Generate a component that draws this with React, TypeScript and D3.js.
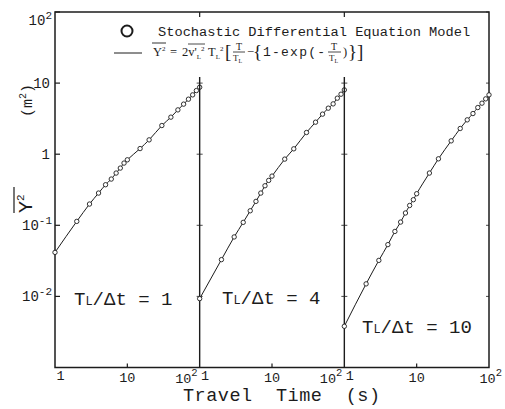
import React from "react";
import * as d3 from "d3";

// Travel times (s) at which the mean square displacement was sampled
const travelTimes = [1, 2, 3, 4, 5, 6, 7, 8, 9, 10, 15, 20, 30, 40, 50, 60, 70, 80, 90, 100];

// Mean square lateral displacement (m^2) for each T_L/Δt case
const msdRatio1 = [0.0416, 0.1135, 0.199, 0.284, 0.372, 0.447, 0.543, 0.638, 0.75, 0.834, 1.2, 1.59, 2.53, 3.32, 4.2, 5.06, 5.94, 6.83, 7.85, 8.75];
const msdRatio4 = [0.0093, 0.0329, 0.0686, 0.11, 0.16, 0.217, 0.284, 0.36, 0.428, 0.492, 0.853, 1.19, 2.02, 2.82, 3.66, 4.44, 5.1, 6.14, 6.98, 8.02];
const msdRatio10 = [0.0038, 0.015, 0.0321, 0.0535, 0.082, 0.111, 0.149, 0.19, 0.229, 0.278, 0.543, 0.861, 1.54, 2.3, 3.04, 3.73, 4.53, 5.22, 6.0, 6.83];

const panelSeries = [msdRatio1, msdRatio4, msdRatio10];
const panelRatios = ["1", "4", "10"];

// Y axis decades
const yTicks = [100, 10, 1, 0.1, 0.01];
const yTickBase = ["10", "10", "1", "10", "10"];
const yTickExp = ["2", "", "", "-1", "-2"];

// X axis ticks per panel
const xTicks = [1, 10, 100];

const W = 505;
const H = 409;
const left = 55;
const right = 489;
const top = 12;
const bottom = 367.5;
const panelW = (right - left) / 3;
const ink = "#1c1c1c";
const mono = "'Liberation Mono', 'DejaVu Sans Mono', monospace";
const serif = "'Liberation Serif', 'DejaVu Serif', serif";

const y = d3.scaleLog().domain([1e-3, 1e2]).range([bottom, top]);
const xScales = [0, 1, 2].map((i) =>
  d3.scaleLog().domain([1, 100]).range([left + i * panelW, left + (i + 1) * panelW])
);

function Panel({ i }: { i: number }) {
  const x = xScales[i];
  const values = panelSeries[i];
  const pts: [number, number][] = travelTimes.map((t, k) => [x(t), y(values[k])]);
  const line = d3.line().curve(d3.curveMonotoneX)(pts) || "";
  const x0 = x.range()[0];
  const x1 = x.range()[1];
  const labelPos = [
    { x: 74, y: 305 },
    { x: 222, y: 304 },
    { x: 362, y: 333 },
  ][i];
  const exp100End = i === 2 ? 502 : x1 - 2;
  return (
    <g>
      {/* panel divider on the left (panels 2 and 3) */}
      {i > 0 && <line x1={x0} x2={x0} y1={77} y2={bottom} stroke={ink} strokeWidth={1.4} />}
      {i > 0 && <line x1={x0} x2={x0} y1={top} y2={top + 5} stroke={ink} strokeWidth={1.2} />}
      {i > 0 &&
        yTicks.map((v) =>
          y(v) > 80 ? (
            <line key={v} x1={x0 - 3} x2={x0 + 3} y1={y(v)} y2={y(v)} stroke={ink} strokeWidth={0.8} />
          ) : null
        )}
      {/* x tick at 10 */}
      <line x1={x(10)} x2={x(10)} y1={bottom} y2={bottom - 4} stroke={ink} strokeWidth={1.2} />
      {/* x tick labels */}
      <text x={x(xTicks[0]) + 5.5} y={380} fontFamily={mono} fontSize={13.5} textAnchor="middle" fill={ink}>1</text>
      <text x={x(xTicks[1])} y={382} fontFamily={mono} fontSize={13.5} textAnchor="middle" fill={ink}>10</text>
      <text x={exp100End} y={383} fontFamily={mono} fontSize={13.5} textAnchor="end" fill={ink}>
        10<tspan fontSize={10.5} dy={-7}>2</tspan>
      </text>
      {/* theoretical curve */}
      <path d={line} fill="none" stroke={ink} strokeWidth={1} />
      {/* simulated points */}
      {pts.map(([px, py], k) => (
        <circle key={k} cx={px} cy={py} r={2.2} fill="#fff" stroke={ink} strokeWidth={0.9} />
      ))}
      {/* panel label */}
      <text x={labelPos.x} y={labelPos.y} fontFamily={mono} fontSize={19} fill={ink} style={{ whiteSpace: "pre" }}>
        T<tspan fontSize={12}>L</tspan>/Δt = {panelRatios[i]}
      </text>
    </g>
  );
}

export default function App() {
  return (
    <svg
      width={W}
      height={H}
      viewBox={`0 0 ${W} ${H}`}
      style={{ position: "absolute", left: 0, top: 0, background: "#fff" }}
    >
      <rect x={0} y={0} width={W} height={H} fill="#fff" />
      {/* frame */}
      <rect x={left} y={top} width={right - left} height={bottom - top} fill="none" stroke={ink} strokeWidth={1.5} />

      {/* y ticks and labels */}
      {yTicks.map((v, k) => (
        <g key={v}>
          <line x1={left} x2={left + 5} y1={y(v)} y2={y(v)} stroke={ink} strokeWidth={1.2} />
          <line x1={right} x2={right - 3} y1={y(v)} y2={y(v)} stroke={ink} strokeWidth={0.8} />
          <text
            x={yTickExp[k] ? 52 : 50}
            y={y(v) + (k === 0 ? 13 : 5)}
            fontFamily={mono}
            fontSize={14}
            textAnchor="end"
            fill={ink}
          >
            {yTickBase[k]}
            {yTickExp[k] && (
              <tspan fontSize={11} dy={-6}>
                {yTickExp[k]}
              </tspan>
            )}
          </text>
        </g>
      ))}

      {[0, 1, 2].map((i) => (
        <Panel key={i} i={i} />
      ))}

      {/* y axis title */}
      <g transform="translate(32, 213) rotate(-90)">
        <text x={0} y={0} fontFamily={mono} fontSize={20} fill={ink}>
          Y<tspan fontSize={11} dy={-8}>2</tspan>
        </text>
        <line x1={0} x2={26} y1={-18} y2={-18} stroke={ink} strokeWidth={1.2} />
        <text x={96} y={0} fontFamily={mono} fontSize={15} fill={ink}>
          (m<tspan fontSize={10} dy={-6}>2</tspan>
          <tspan dy={6}>)</tspan>
        </text>
      </g>

      {/* x axis title */}
      <text x={183} y={401} fontFamily={mono} fontSize={18.5} fill={ink} textLength={197} style={{ whiteSpace: "pre" }}>
        Travel  Time  (s)
      </text>

      {/* legend: simulation markers */}
      <circle cx={127} cy={31} r={5.5} fill="#fff" stroke={ink} strokeWidth={2} />
      <text x={158} y={36} fontFamily={mono} fontSize={13.7} fill={ink}>
        Stochastic Differential Equation Model
      </text>

      {/* legend: theoretical curve */}
      <line x1={114} x2={142} y1={53} y2={53} stroke={ink} strokeWidth={1} />
      <g fontFamily={serif} fill={ink} fontSize={12.5}>
        <text x={153} y={56}>
          Y<tspan fontSize={7} dy={-5}>2</tspan>
        </text>
        <line x1={152} x2={166} y1={43} y2={43} stroke={ink} strokeWidth={0.9} />
        <text x={170} y={56}>=</text>
        <text x={182} y={56}>
          2v'<tspan fontSize={7} dy={3}>L</tspan>
          <tspan fontSize={7} dy={-8}>2</tspan>
        </text>
        <line x1={188} x2={205} y1={44} y2={44} stroke={ink} strokeWidth={0.8} />
        <text x={208} y={56}>
          T<tspan fontSize={7} dy={3}>L</tspan>
          <tspan fontSize={7} dy={-8}>2</tspan>
        </text>
        <text x={225} y={58} fontSize={19}>[</text>
        <text x={236} y={50} fontSize={10}>T</text>
        <line x1={233} x2={245} y1={52} y2={52} stroke={ink} strokeWidth={0.8} />
        <text x={233} y={61} fontSize={9}>
          T<tspan fontSize={6} dy={2}>L</tspan>
        </text>
        <text x={247} y={56}>−</text>
        <text x={253} y={58} fontSize={19}>{"{"}</text>
        <text x={263} y={56} fontFamily={mono} fontSize={13} textLength={62}>1-exp(-</text>
        <text x={331} y={50} fontSize={10}>T</text>
        <line x1={328} x2={341} y1={52} y2={52} stroke={ink} strokeWidth={0.8} />
        <text x={329} y={61} fontSize={9}>
          T<tspan fontSize={6} dy={2}>L</tspan>
        </text>
        <text x={343} y={56}>)</text>
        <text x={348} y={58} fontSize={19}>{"}"}</text>
        <text x={357} y={58} fontSize={19}>]</text>
      </g>
    </svg>
  );
}
